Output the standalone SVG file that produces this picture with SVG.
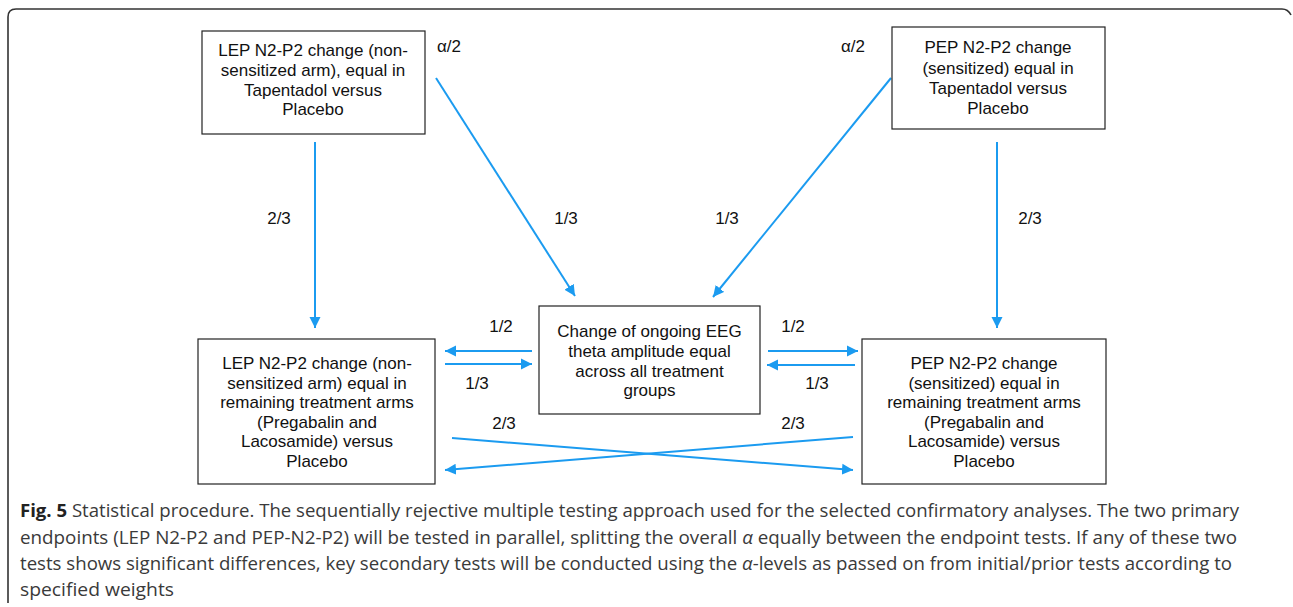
<svg xmlns="http://www.w3.org/2000/svg" width="1293" height="607" viewBox="0 0 1293 607">
<style>
.box{fill:#fff;stroke:#222;stroke-width:1.2}
.nt{font-family:"Liberation Sans",Arial,sans-serif;font-size:17px;fill:#111;text-anchor:middle}
.lbl{font-family:"Liberation Sans",Arial,sans-serif;font-size:17px;fill:#111;text-anchor:middle}
.con{stroke:#1b9bf0;stroke-width:2;fill:none;marker-end:url(#ah)}
.cap{font-family:"Open Sans","Noto Sans",sans-serif;font-size:18px;fill:#3a3a3a}
.frame{fill:none;stroke:#333;stroke-width:1.6}
</style>
<defs>
<marker id="ah" markerUnits="userSpaceOnUse" markerWidth="12" markerHeight="12" refX="11" refY="6" orient="auto">
<path d="M0,0.5 L11,6 L0,11.5 z" fill="#1b9bf0"/>
</marker>
</defs>
<rect width="1293" height="607" fill="#fff"/>
<path class="frame" d="M8,603 L8,17 Q8,9 16,9 L1282,9 Q1288,9 1291,15"/>

<g id="connectors">
<line class="con" x1="315" y1="142" x2="315" y2="328"/>
<line class="con" x1="436" y1="78" x2="575" y2="296"/>
<line class="con" x1="891" y1="78" x2="713" y2="297"/>
<line class="con" x1="997" y1="142" x2="997" y2="328"/>
<line class="con" x1="532" y1="351" x2="445" y2="351"/>
<line class="con" x1="445" y1="364" x2="532" y2="364"/>
<line class="con" x1="768" y1="351" x2="858" y2="351"/>
<line class="con" x1="855" y1="365" x2="767" y2="365"/>
<line class="con" x1="452" y1="438" x2="853" y2="470"/>
<line class="con" x1="853" y1="437" x2="445" y2="470"/>
</g>

<g id="labels">
<text class="lbl" x="449" y="52">α/2</text>
<text class="lbl" x="853" y="52">α/2</text>
<text class="lbl" x="279" y="224">2/3</text>
<text class="lbl" x="566" y="224">1/3</text>
<text class="lbl" x="727" y="224">1/3</text>
<text class="lbl" x="1030" y="224">2/3</text>
<text class="lbl" x="501" y="332">1/2</text>
<text class="lbl" x="477" y="389">1/3</text>
<text class="lbl" x="793" y="332">1/2</text>
<text class="lbl" x="817" y="389">1/3</text>
<text class="lbl" x="504" y="429">2/3</text>
<text class="lbl" x="793" y="429">2/3</text>
</g>

<g id="lep-top">
<rect class="box" x="202" y="31" width="223" height="103"/>
<text class="nt" x="313" y="56">LEP N2-P2 change (non-</text>
<text class="nt" x="313" y="76">sensitized arm), equal in</text>
<text class="nt" x="313" y="96">Tapentadol versus</text>
<text class="nt" x="313" y="115">Placebo</text>
</g>

<g id="pep-top">
<rect class="box" x="892" y="27" width="213" height="102"/>
<text class="nt" x="998" y="53">PEP N2-P2 change</text>
<text class="nt" x="998" y="74">(sensitized) equal in</text>
<text class="nt" x="998" y="94">Tapentadol versus</text>
<text class="nt" x="998" y="114">Placebo</text>
</g>

<g id="eeg-center">
<rect class="box" x="539" y="306" width="221" height="108"/>
<text class="nt" x="649.5" y="337">Change of ongoing EEG</text>
<text class="nt" x="649.5" y="357">theta amplitude equal</text>
<text class="nt" x="649.5" y="377">across all treatment</text>
<text class="nt" x="649.5" y="396">groups</text>
</g>

<g id="lep-bottom">
<rect class="box" x="198" y="339" width="237" height="145"/>
<text class="nt" x="317" y="369">LEP N2-P2 change (non-</text>
<text class="nt" x="317" y="389">sensitized arm) equal in</text>
<text class="nt" x="317" y="408">remaining treatment arms</text>
<text class="nt" x="317" y="428">(Pregabalin and</text>
<text class="nt" x="317" y="447">Lacosamide) versus</text>
<text class="nt" x="317" y="467">Placebo</text>
</g>

<g id="pep-bottom">
<rect class="box" x="862" y="339" width="244" height="145"/>
<text class="nt" x="984" y="369">PEP N2-P2 change</text>
<text class="nt" x="984" y="389">(sensitized) equal in</text>
<text class="nt" x="984" y="408">remaining treatment arms</text>
<text class="nt" x="984" y="428">(Pregabalin and</text>
<text class="nt" x="984" y="447">Lacosamide) versus</text>
<text class="nt" x="984" y="467">Placebo</text>
</g>

<g id="caption">
<text class="cap" x="20" y="517" textLength="1219" lengthAdjust="spacingAndGlyphs"><tspan font-weight="bold" fill="#222">Fig. 5</tspan> Statistical procedure. The sequentially rejective multiple testing approach used for the selected confirmatory analyses. The two primary</text>
<text class="cap" x="20" y="544" textLength="1217" lengthAdjust="spacingAndGlyphs">endpoints (LEP N2-P2 and PEP-N2-P2) will be tested in parallel, splitting the overall <tspan font-style="italic">α</tspan> equally between the endpoint tests. If any of these two</text>
<text class="cap" x="20" y="570" textLength="1212" lengthAdjust="spacingAndGlyphs">tests shows significant differences, key secondary tests will be conducted using the <tspan font-style="italic">α</tspan>-levels as passed on from initial/prior tests according to</text>
<text class="cap" x="20" y="596" textLength="154" lengthAdjust="spacingAndGlyphs">specified weights</text>
</g>
</svg>
